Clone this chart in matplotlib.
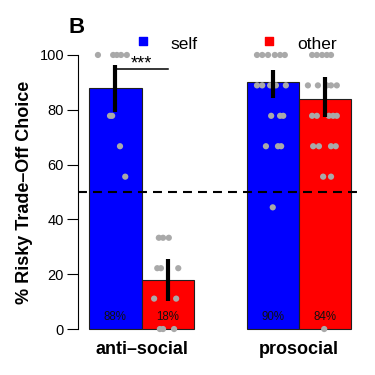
import matplotlib
matplotlib.use("Agg")
import matplotlib.pyplot as plt
import numpy as np

plt.rcParams['font.family'] = ['Liberation Sans', 'DejaVu Sans']

# group means (% risky trade-off choice) and error bar ends
groups = ["anti\u2013social", "prosocial"]
conditions = ["self", "other"]
means = [88, 18, 90, 84]
err_low = [79.3, 10.2, 84.4, 77.3]
err_high = [96.4, 25.4, 94.5, 91.9]
pct_labels = ["88%", "18%", "90%", "84%"]
bar_colors = ["#0000FF", "#FF0000", "#0000FF", "#FF0000"]

# individual subject scores per bar, with their horizontal jitter
scores = [
    [100, 100, 100, 100, 100, 77.8, 77.8, 66.7, 55.6],
    [33.3, 33.3, 33.3, 22.2, 22.2, 22.2, 11.1, 11.1, 0, 0, 0],
    [100, 100, 100, 100, 100, 100, 88.9, 88.9, 88.9, 88.9, 88.9,
     77.8, 77.8, 77.8, 66.7, 66.7, 66.7, 44.4],
    [100, 100, 100, 100, 100, 88.9, 88.9, 88.9, 88.9, 88.9,
     77.8, 77.8, 77.8, 77.8, 77.8, 66.7, 66.7, 66.7, 66.7, 55.6, 55.6, 0],
]
jitter = [
    [-0.33, -0.04, 0.03, 0.11, 0.22, -0.10, -0.06, 0.09, 0.19],
    [-0.17, -0.09, 0.02, -0.20, -0.13, 0.20, -0.26, 0.16, -0.15, -0.09, 0.12],
    [-0.30, -0.20, -0.09, 0.04, 0.14, 0.23, -0.30, -0.20, -0.05, 0.06, 0.25,
     -0.03, 0.14, 0.20, -0.13, 0.10, 0.16, 0.0],
    [-0.25, -0.16, -0.06, 0.03, 0.11, -0.33, -0.14, 0.03, 0.11, 0.22,
     -0.25, -0.16, 0.07, 0.15, 0.22, -0.23, -0.12, 0.11, 0.20, -0.04, 0.11, -0.02],
]

bar_x = np.array([1.5, 2.5, 4.5, 5.5])

fig = plt.figure(figsize=(3.75, 3.75), dpi=100)
ax = fig.add_axes([78 / 375, 35 / 375, 279 / 375, 296 / 375])

ax.bar(bar_x, means, width=1.0, color=bar_colors, edgecolor="#202020",
       linewidth=0.8, zorder=2)

for i in range(4):
    xs = bar_x[i] + np.array(jitter[i])
    ax.scatter(xs, scores[i], s=20, color="#A9A9A9", edgecolors="none",
               zorder=3, clip_on=False)
    ax.plot([bar_x[i], bar_x[i]], [err_low[i], err_high[i]], color="black",
            lw=3, solid_capstyle="butt", zorder=4)
    ax.text(bar_x[i], 3.3, pct_labels[i], ha="center", va="baseline",
            fontsize=8.3, color="#111111", zorder=5)

ax.axhline(50, color="black", lw=1.5, linestyle=(0, (4.3, 2.9)), zorder=5)

# significance marker
ax.plot([1.53, 2.5], [94.9, 94.9], color="black", lw=1.1, zorder=4)
ax.text(2.0, 94.9, "***", ha="center", va="baseline", fontsize=13)

# legend
ax.scatter([2.03], [105.1], marker="s", s=36, color="#0000FF", clip_on=False)
ax.scatter([4.43], [105.1], marker="s", s=36, color="#FF0000", clip_on=False)
ax.text(2.56, 102.2, conditions[0], fontsize=12.5, va="baseline")
ax.text(4.96, 102.2, conditions[1], fontsize=12.5, va="baseline")

ax.set_xlim(0.79, 6.105)
ax.set_ylim(-4, 104)
for side in ["top", "right", "bottom"]:
    ax.spines[side].set_visible(False)
ax.spines["left"].set_bounds(0, 100)
ax.spines["left"].set_linewidth(0.8)
ax.set_xticks([])
ax.set_yticks([0, 20, 40, 60, 80, 100])
ax.tick_params(axis="y", length=8, width=0.8, pad=2, labelsize=10.5)

for g, cx in zip(groups, [2.0, 5.0]):
    ax.text(cx, -9.1, g, ha="center", va="baseline", fontsize=13,
            fontweight="bold", clip_on=False)

fig.text(25 / 375, 1 - 192 / 375, "% Risky Trade\u2013Off Choice", rotation=90,
         ha="center", va="center", fontsize=13, fontweight="bold")
fig.text(69 / 375, 1 - 33 / 375, "B", fontsize=16, fontweight="bold",
         va="baseline")

fig.savefig("out.png", dpi=100)
